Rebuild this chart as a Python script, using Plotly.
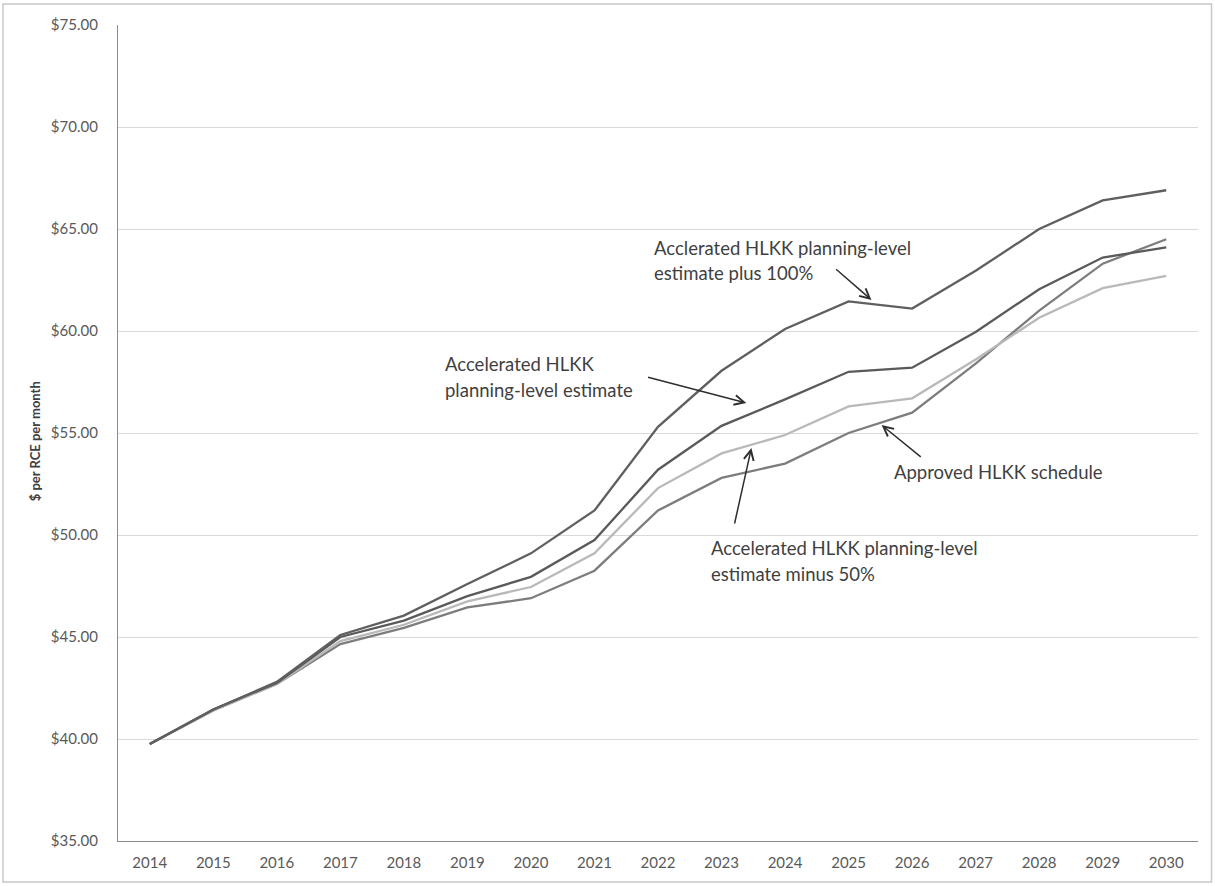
import plotly.graph_objects as go

# Monthly cost per RCE under four rate schedules, 2014-2030
years = list(range(2014, 2031))
plus_100 = [39.75, 41.45, 42.8, 45.1, 46.05, 47.6, 49.1, 51.2, 55.3, 58.05, 60.1, 61.45, 61.1, 62.95, 65.0, 66.4, 66.9]
accelerated = [39.75, 41.45, 42.75, 45.0, 45.8, 47.0, 47.95, 49.75, 53.2, 55.35, 56.65, 58.0, 58.2, 59.95, 62.05, 63.6, 64.1]
minus_50 = [39.75, 41.4, 42.7, 44.8, 45.6, 46.75, 47.45, 49.1, 52.3, 54.0, 54.9, 56.3, 56.7, 58.6, 60.65, 62.1, 62.7]
approved = [39.75, 41.4, 42.7, 44.65, 45.45, 46.45, 46.9, 48.25, 51.2, 52.8, 53.5, 55.0, 56.0, 58.4, 61.0, 63.3, 64.5]

y_ticks = [35, 40, 45, 50, 55, 60, 65, 70, 75]
y_tick_text = [f"${v:.2f}" for v in y_ticks]

FONT = "Lato, 'Open Sans', sans-serif"

fig = go.Figure()
series = [
    ("Approved HLKK schedule", approved, "#7d7d7d"),
    ("Accelerated HLKK planning-level estimate minus 50%", minus_50, "#b9b9b9"),
    ("Accelerated HLKK planning-level estimate", accelerated, "#5a5a5a"),
    ("Acclerated HLKK planning-level estimate plus 100%", plus_100, "#5f5f5f"),
]
for name, vals, color in series:
    fig.add_trace(go.Scatter(
        x=years, y=vals, mode="lines", name=name,
        line=dict(color=color, width=2.3),
        hoverinfo="skip",
    ))

# Callout labels, one annotation per text line (x left edge, y line centre)
text_lines = [
    (2021.91, 64.07, "Acclerated HLKK planning-level"),
    (2021.91, 62.84, "estimate plus 100%"),
    (2018.61, 58.38, "Accelerated HLKK"),
    (2018.61, 57.11, "planning-level estimate"),
    (2022.81, 49.36, "Accelerated HLKK planning-level"),
    (2022.81, 48.09, "estimate minus 50%"),
    (2025.69, 53.09, "Approved HLKK schedule"),
]
for x, y, t in text_lines:
    fig.add_annotation(
        x=x, y=y, text=t, showarrow=False, xanchor="left", yanchor="middle",
        align="left", font=dict(family=FONT, size=18.5, color="#3f3f3f"),
    )

arrows = [
    # (head x, head y, tail x, tail y)
    (2025.36, 61.52, 2024.78, 63.09),
    (2023.39, 56.47, 2021.82, 57.75),
    (2023.47, 54.26, 2023.20, 50.49),
    (2025.52, 55.39, 2026.16, 53.77),
]
for hx, hy, tx, ty in arrows:
    fig.add_annotation(
        x=hx, y=hy, ax=tx, ay=ty, xref="x", yref="y", axref="x", ayref="y",
        text="", showarrow=True, arrowhead=5, arrowsize=1.3, arrowwidth=1.5,
        arrowcolor="#2e2e2e",
    )

# Axis title
fig.add_annotation(
    x=-0.086, y=0.49, xref="paper", yref="paper", text="<b>$ per RCE per month</b>",
    textangle=-90, showarrow=False, font=dict(family=FONT, size=13, color="#404040"),
)

# Outer chart frame
fig.add_shape(
    type="rect", xref="paper", yref="paper",
    x0=-0.1065, x1=1.0125, y0=-0.0502, y1=1.0257,
    line=dict(color="#c8c8c8", width=1.5), fillcolor="rgba(0,0,0,0)", layer="below",
)

fig.update_layout(
    width=1215, height=886,
    margin=dict(l=118, r=17, t=25, b=45),
    paper_bgcolor="white", plot_bgcolor="white",
    showlegend=False,
    font=dict(family=FONT, color="#595959"),
)
fig.update_xaxes(
    range=[2013.5, 2030.5], tickvals=years, ticktext=[str(y) for y in years],
    showgrid=False, zeroline=False,
    showline=True, linecolor="#8c8c8c", linewidth=1.2,
    ticks="", ticklabelstandoff=8,
    tickfont=dict(family=FONT, size=15, color="#595959"),
)
fig.update_yaxes(
    range=[35, 75], tickvals=y_ticks, ticktext=y_tick_text,
    showgrid=True, gridcolor="#d9d9d9", gridwidth=1.2, zeroline=False,
    showline=True, linecolor="#8c8c8c", linewidth=1.2,
    ticks="", ticklabelstandoff=16,
    tickfont=dict(family=FONT, size=15, color="#595959"),
)

fig.write_html("out.html")
